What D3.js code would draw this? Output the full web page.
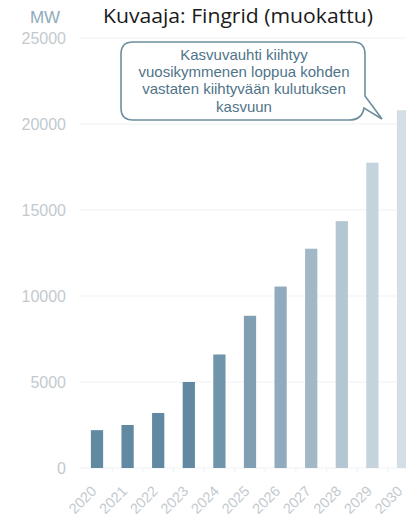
<!DOCTYPE html>
<html><head><meta charset="utf-8">
<script src="https://cdn.jsdelivr.net/npm/d3@7"></script>
<style>html,body{margin:0;padding:0;background:#fff;overflow:hidden}</style>
</head><body>
<svg id="c" width="406" height="522"></svg>
<script>
const years = ["2020","2021","2022","2023","2024","2025","2026","2027","2028","2029","2030"];
const values = [2200,2500,3200,5000,6600,8850,10550,12750,14350,17750,20800];
const colors = ["#618aa2","#618aa2","#618aa2","#618aa2","#7094aa","#809fb3","#90abbd","#a2b8c6","#b3c6d2","#c4d3dc","#d3dee5"];
const yTicks = [0,5000,10000,15000,20000,25000];
const unitLabel = "MW";
const title = "Kuvaaja: Fingrid (muokattu)";
const calloutLines = ["Kasvuvauhti kiihtyy","vuosikymmenen loppua kohden","vastaten kiihtyvään kulutuksen","kasvuun"];

const svg = d3.select("#c");
const y = d3.scaleLinear().domain([0,25000]).range([468,38]);
const step = 30.6;
const x = d3.scaleBand().domain(years).range([81.7, 81.7+11*step]).paddingInner(0.6).paddingOuter(0.3);

// gridlines
svg.append("g").selectAll("line").data(yTicks).join("line")
  .attr("x1",80).attr("x2",406).attr("y1",d=>y(d)).attr("y2",d=>y(d))
  .attr("stroke","#eef1f3").attr("stroke-width",1);

// y labels
svg.append("g").selectAll("text").data(yTicks).join("text")
  .attr("x",66).attr("y",d=>y(d)+6.3).attr("text-anchor","end")
  .attr("font-family","Liberation Sans, Arial, sans-serif").attr("font-size",16)
  .attr("fill","#c3cacf").text(d=>d);

svg.append("text").attr("x",45).attr("y",23).attr("text-anchor","middle")
  .attr("font-family","Liberation Sans, Arial, sans-serif").attr("font-size",17)
  .attr("fill","#8fabbb").text(unitLabel);

svg.append("text").attr("x",103).attr("y",23)
  .attr("font-family","Open Sans, sans-serif").attr("font-size",19.5)
  .attr("textLength",270).attr("lengthAdjust","spacingAndGlyphs")
  .attr("fill","#1a1a1a").text(title);

// bars
svg.append("g").selectAll("rect").data(values).join("rect")
  .attr("x",(d,i)=>x(years[i])).attr("width",x.bandwidth())
  .attr("y",d=>y(d)).attr("height",d=>y(0)-y(d))
  .attr("fill",(d,i)=>colors[i]);

// x axis ticks
svg.append("g").selectAll("line").data(years.slice(1)).join("line")
  .attr("x1",d=>x(d)-x.step()*0.3).attr("x2",d=>x(d)-x.step()*0.3)
  .attr("y1",468).attr("y2",472).attr("stroke","#eef1f3");

// x labels
svg.append("g").selectAll("text").data(years).join("text")
  .attr("transform",d=>`translate(${x(d)+x.bandwidth()/2+0.5},${492}) rotate(-45)`)
  .attr("text-anchor","end")
  .attr("font-family","Liberation Sans, Arial, sans-serif").attr("font-size",14.5)
  .attr("fill","#c3cacf").text(d=>d);

// callout
const L=121, T=42, R=365, B=120, r=12;
const path = `M${L+r},${T} H${R-r} Q${R},${T} ${R},${T+r} V96 L382,119 L364,108 Q362,${B} ${R-r-4},${B} H${L+r} Q${L},${B} ${L},${B-r} V${T+r} Q${L},${T} ${L+r},${T} Z`;
svg.append("path").attr("d",path).attr("fill","#fff").attr("stroke","#6e8e9e").attr("stroke-width",1.6);
svg.append("g").selectAll("text").data(calloutLines).join("text")
  .attr("x",244).attr("y",(d,i)=>59.5+i*17.4).attr("text-anchor","middle")
  .attr("font-family","Liberation Sans, Arial, sans-serif").attr("font-size",15)
  .attr("fill","#4f7489").text(d=>d);
</script>
</body></html>
